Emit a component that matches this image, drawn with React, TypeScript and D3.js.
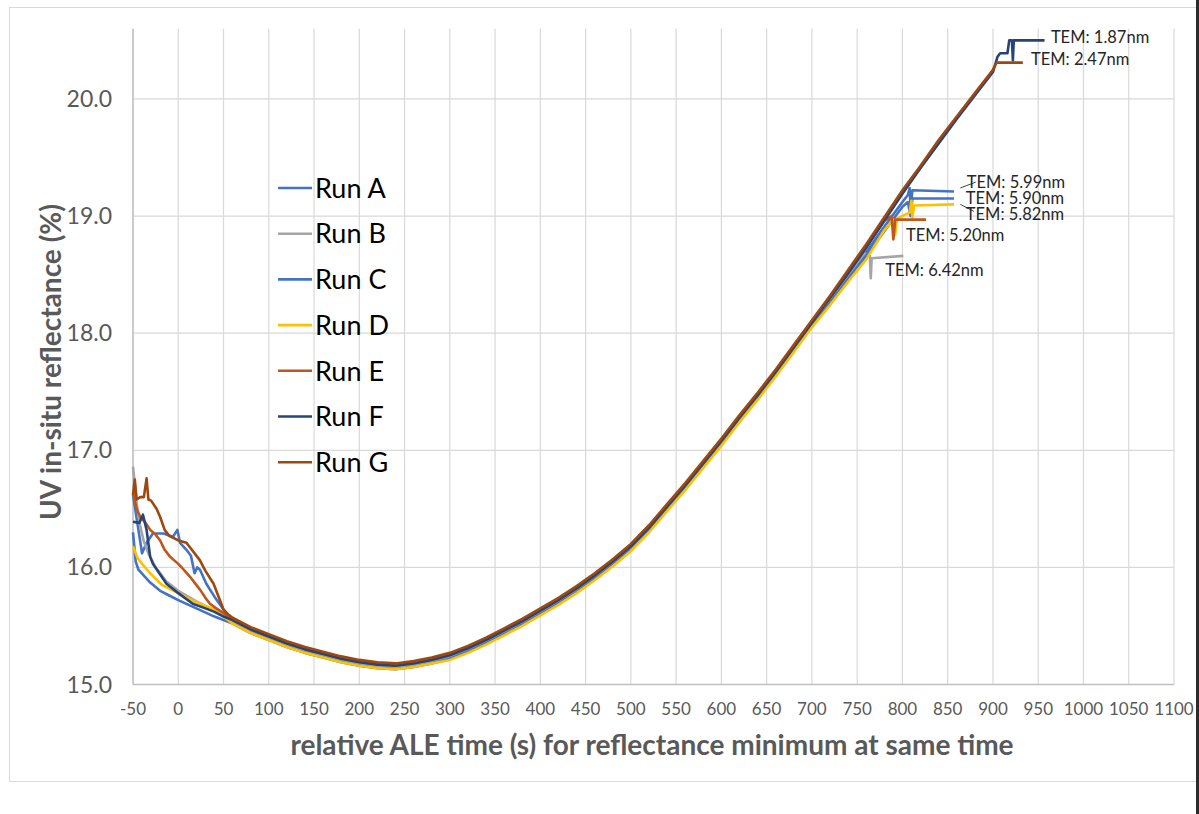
import React from "react";
import * as d3 from "d3";

// x ticks (s) and y ticks (%)
const xTicks = d3.range(-50, 1101, 50);
const yTicks = [15, 16, 17, 18, 19, 20];

// readings [relative time s, reflectance %] for each run
const runA: [number, number][] = [
  [-50, 16.62], [-44, 16.32], [-40, 16.12], [-35, 16.21], [-28, 16.29], [-16, 16.29], [-6, 16.26],
  [-1, 16.32], [2, 16.21], [9, 16.15], [14, 16.1], [18, 15.95], [21, 16.0], [24, 15.98], [31, 15.86],
  [40, 15.75], [50, 15.64], [60, 15.54], [80, 15.46], [100, 15.4], [120, 15.34], [140, 15.29],
  [160, 15.25], [180, 15.21], [200, 15.18], [220, 15.16], [240, 15.15], [260, 15.17], [280, 15.2],
  [300, 15.24], [320, 15.3], [340, 15.37], [360, 15.45], [380, 15.53], [400, 15.62], [420, 15.71],
  [440, 15.81], [460, 15.92], [480, 16.04], [500, 16.17], [520, 16.33], [540, 16.51], [560, 16.69],
  [580, 16.88], [600, 17.07], [620, 17.27], [640, 17.46], [660, 17.66], [680, 17.87], [700, 18.08],
  [720, 18.27], [740, 18.48], [760, 18.69], [780, 18.91], [800, 19.12], [806, 19.18], [808, 19.24],
  [809, 19.06], [811, 19.22], [857, 19.21],
];
const runB: [number, number][] = [
  [-50, 16.86], [-46, 16.55], [-42, 16.35], [-38, 16.22], [-33, 16.12], [-25, 16.0], [-13, 15.88],
  [0, 15.8], [20, 15.71], [40, 15.63], [60, 15.54], [80, 15.46], [100, 15.4], [120, 15.34],
  [140, 15.29], [160, 15.25], [180, 15.21], [200, 15.18], [220, 15.16], [240, 15.15], [260, 15.17],
  [280, 15.2], [300, 15.24], [320, 15.3], [340, 15.37], [360, 15.45], [380, 15.53], [400, 15.62],
  [420, 15.71], [440, 15.81], [460, 15.92], [480, 16.04], [500, 16.17], [520, 16.33], [540, 16.51],
  [560, 16.69], [580, 16.88], [600, 17.07], [620, 17.27], [640, 17.46], [660, 17.66], [680, 17.87],
  [700, 18.08], [720, 18.29], [740, 18.5], [758, 18.68], [764, 18.66], [765, 18.47], [766, 18.64],
  [801, 18.66],
];
const runC: [number, number][] = [
  [-50, 16.3], [-47, 16.05], [-44, 15.98], [-38, 15.93], [-31, 15.87], [-20, 15.8], [-10, 15.76],
  [0, 15.72], [20, 15.65], [40, 15.58], [60, 15.52], [80, 15.44], [100, 15.38], [120, 15.32],
  [140, 15.27], [160, 15.23], [180, 15.19], [200, 15.16], [220, 15.14], [240, 15.13], [260, 15.15],
  [280, 15.18], [300, 15.22], [320, 15.28], [340, 15.35], [360, 15.43], [380, 15.51], [400, 15.6],
  [420, 15.69], [440, 15.79], [460, 15.9], [480, 16.02], [500, 16.15], [520, 16.31], [540, 16.49],
  [560, 16.67], [580, 16.86], [600, 17.05], [620, 17.25], [640, 17.44], [660, 17.64], [680, 17.85],
  [700, 18.06], [720, 18.26], [740, 18.46], [760, 18.66], [780, 18.87], [800, 19.08], [806, 19.12],
  [809, 19.0], [811, 19.15], [857, 19.15],
];
const runD: [number, number][] = [
  [-50, 16.18], [-45, 16.08], [-40, 16.03], [-31, 15.95], [-18, 15.85], [0, 15.78], [15, 15.72],
  [30, 15.67], [40, 15.64], [50, 15.58], [60, 15.52], [80, 15.44], [100, 15.38], [120, 15.32],
  [140, 15.27], [160, 15.23], [180, 15.19], [200, 15.16], [220, 15.14], [240, 15.13], [260, 15.15],
  [280, 15.18], [300, 15.21], [320, 15.27], [340, 15.34], [360, 15.42], [380, 15.5], [400, 15.59],
  [420, 15.68], [440, 15.78], [460, 15.89], [480, 16.01], [500, 16.14], [520, 16.3], [540, 16.48],
  [560, 16.66], [580, 16.85], [600, 17.04], [620, 17.24], [640, 17.43], [660, 17.63], [680, 17.84],
  [700, 18.05], [720, 18.24], [740, 18.44], [760, 18.63], [780, 18.88], [790, 18.97], [792, 18.84],
  [794, 18.98], [808, 19.03], [810, 19.13], [811, 18.99], [813, 19.09], [857, 19.1],
];
const runE: [number, number][] = [
  [-50, 16.64], [-46, 16.5], [-42, 16.43], [-36, 16.38], [-31, 16.32], [-25, 16.28], [-20, 16.23],
  [-15, 16.15], [-9, 16.09], [0, 16.03], [6, 15.98], [13, 15.92], [18, 15.87], [24, 15.81],
  [30, 15.74], [35, 15.69], [42, 15.65], [50, 15.61], [60, 15.56], [80, 15.48], [100, 15.42],
  [120, 15.36], [140, 15.31], [160, 15.27], [180, 15.23], [200, 15.2], [220, 15.18], [240, 15.17],
  [260, 15.19], [280, 15.22], [300, 15.26], [320, 15.32], [340, 15.39], [360, 15.47], [380, 15.55],
  [400, 15.64], [420, 15.73], [440, 15.83], [460, 15.94], [480, 16.06], [500, 16.19], [520, 16.35],
  [540, 16.53], [560, 16.71], [580, 16.9], [600, 17.09], [620, 17.29], [640, 17.48], [660, 17.68],
  [680, 17.89], [700, 18.1], [720, 18.31], [740, 18.52], [760, 18.74], [780, 18.96], [788, 19.0],
  [790, 18.8], [792, 18.97], [826, 18.97],
];
const runF: [number, number][] = [
  [-50, 16.39], [-43, 16.38], [-39, 16.45], [-35, 16.32], [-31, 16.09], [-28, 16.03], [-20, 15.94],
  [-13, 15.86], [0, 15.78], [16, 15.69], [30, 15.65], [40, 15.62], [50, 15.58], [60, 15.55],
  [80, 15.47], [100, 15.41], [120, 15.35], [140, 15.3], [160, 15.26], [180, 15.22], [200, 15.19],
  [220, 15.17], [240, 15.16], [260, 15.18], [280, 15.21], [300, 15.25], [320, 15.31], [340, 15.38],
  [360, 15.46], [380, 15.54], [400, 15.63], [420, 15.72], [440, 15.82], [460, 15.93], [480, 16.05],
  [500, 16.18], [520, 16.34], [540, 16.52], [560, 16.7], [580, 16.89], [600, 17.08], [620, 17.28],
  [640, 17.47], [660, 17.67], [680, 17.88], [700, 18.09], [720, 18.3], [740, 18.51], [760, 18.73],
  [780, 18.96], [800, 19.19], [820, 19.41], [840, 19.62], [860, 19.83], [880, 20.03], [900, 20.23],
  [905, 20.36], [908, 20.39], [916, 20.39], [918, 20.5], [921, 20.5], [922, 20.33], [923, 20.5],
  [957, 20.5],
];
const runG: [number, number][] = [
  [-50, 16.62], [-48, 16.75], [-46, 16.58], [-42, 16.6], [-38, 16.6], [-35, 16.76], [-33, 16.58],
  [-30, 16.57], [-24, 16.5], [-20, 16.43], [-15, 16.32], [-10, 16.27], [0, 16.23], [9, 16.21],
  [15, 16.15], [24, 16.06], [30, 15.97], [39, 15.86], [45, 15.74], [50, 15.64], [55, 15.6],
  [60, 15.57], [80, 15.49], [100, 15.43], [120, 15.37], [140, 15.32], [160, 15.28], [180, 15.24],
  [200, 15.21], [220, 15.19], [240, 15.18], [260, 15.2], [280, 15.23], [300, 15.27], [320, 15.33],
  [340, 15.4], [360, 15.48], [380, 15.56], [400, 15.65], [420, 15.74], [440, 15.84], [460, 15.95],
  [480, 16.07], [500, 16.2], [520, 16.36], [540, 16.54], [560, 16.72], [580, 16.91], [600, 17.1],
  [620, 17.3], [640, 17.49], [660, 17.69], [680, 17.9], [700, 18.11], [720, 18.32], [740, 18.54],
  [760, 18.76], [780, 18.99], [800, 19.22], [820, 19.43], [840, 19.65], [860, 19.85], [880, 20.05],
  [900, 20.25], [904, 20.31], [933, 20.31],
];

const runNames = ["Run A", "Run B", "Run C", "Run D", "Run E", "Run F", "Run G"];
const runData = [runA, runB, runC, runD, runE, runF, runG];
const runColors = ["#4472C4", "#A5A5A5", "#4472C4", "#FFC000", "#C0561A", "#264478", "#9E480E"];

// TEM thickness notes, anchored at [time, reflectance]
const temLabels = ["TEM: 1.87nm", "TEM: 2.47nm", "TEM: 5.99nm", "TEM: 5.90nm", "TEM: 5.82nm", "TEM: 5.20nm", "TEM: 6.42nm"];
const temAnchors: [number, number][] = [
  [964, 20.53], [942, 20.34], [871, 19.29], [870, 19.155], [870, 19.02], [804, 18.84], [781, 18.54],
];
// leader lines for two of the notes: [from t, from v, to t, to v]
const temLeaders: [number, number, number, number][] = [
  [864, 19.24, 881, 19.29],
  [864, 19.1, 879, 19.04],
];

const W = 1199;
const H = 814;
const font = "Lato, 'Liberation Sans', sans-serif";

export default function App() {
  const x = d3.scaleLinear().domain([-50, 1100]).range([133, 1174]);
  const y = d3.scaleLinear().domain([15, 20.6]).range([684.5, 28.7]);

  const line = d3
    .line<[number, number]>()
    .x((d) => x(d[0]))
    .y((d) => y(d[1]));

  const legendX = 278;
  const legendY0 = 188;
  const legendStep = 45.7;

  return (
    <svg
      width={W}
      height={H}
      style={{ position: "absolute", left: 0, top: 0, display: "block", background: "#fff" }}
    >
      <rect x={9.5} y={7.5} width={1188} height={774} fill="#fff" stroke="#d9d9d9" />

      {/* grid */}
      {xTicks.map((t) => (
        <line key={"gx" + t} x1={x(t)} x2={x(t)} y1={y(20.6)} y2={y(15)} stroke="#d9d9d9" strokeWidth={1.2} />
      ))}
      {yTicks.map((v) => (
        <line key={"gy" + v} x1={x(-50)} x2={x(1100)} y1={y(v)} y2={y(v)} stroke="#d9d9d9" strokeWidth={1.2} />
      ))}
      <line x1={x(-50)} x2={x(-50)} y1={y(20.6)} y2={y(15)} stroke="#bfbfbf" strokeWidth={1.4} />
      <line x1={x(-50)} x2={x(1100)} y1={y(15)} y2={y(15)} stroke="#bfbfbf" strokeWidth={1.4} />

      {/* tick labels */}
      {xTicks.map((t) => (
        <text key={"tx" + t} x={x(t)} y={715} textAnchor="middle" fontFamily={font} fontSize={17} fill="#595959">
          {t}
        </text>
      ))}
      {yTicks.map((v) => (
        <text key={"ty" + v} x={112} y={y(v)} dy="0.35em" textAnchor="end" fontFamily={font} fontSize={23} fill="#595959">
          {v.toFixed(1)}
        </text>
      ))}

      {/* axis titles */}
      <text x={652} y={755} textAnchor="middle" fontFamily={font} fontSize={28} fontWeight="bold" fill="#595959">
        relative ALE time (s) for reflectance minimum at same time
      </text>
      <text
        transform={`translate(61, 362) rotate(-90)`}
        textAnchor="middle"
        fontFamily={font}
        fontSize={28}
        fontWeight="bold"
        fill="#595959"
      >
        UV in-situ reflectance (%)
      </text>

      {/* series */}
      {runData.map((d, i) => (
        <path key={runNames[i]} d={line(d) || ""} fill="none" stroke={runColors[i]} strokeWidth={2.6} strokeLinejoin="round" />
      ))}

      {/* TEM notes */}
      {temLeaders.map((l, i) => (
        <line key={"ld" + i} x1={x(l[0])} y1={y(l[1])} x2={x(l[2])} y2={y(l[3])} stroke="#404040" strokeWidth={1} />
      ))}
      {temLabels.map((s, i) => (
        <text
          key={s}
          x={x(temAnchors[i][0])}
          y={y(temAnchors[i][1])}
          dy="0.35em"
          fontFamily={font}
          fontSize={16.5}
          fill="#262626"
        >
          {s}
        </text>
      ))}

      {/* legend */}
      {runNames.map((n, i) => (
        <g key={"lg" + n} transform={`translate(${legendX}, ${legendY0 + i * legendStep})`}>
          <line x1={0} x2={34} y1={0} y2={0} stroke={runColors[i]} strokeWidth={2.6} />
          <text x={37} y={0} dy="0.36em" fontFamily={font} fontSize={27} fill="#000">
            {n}
          </text>
        </g>
      ))}

      <rect x={1196} y={0} width={3} height={H} fill="#2b2b2b" />
    </svg>
  );
}
